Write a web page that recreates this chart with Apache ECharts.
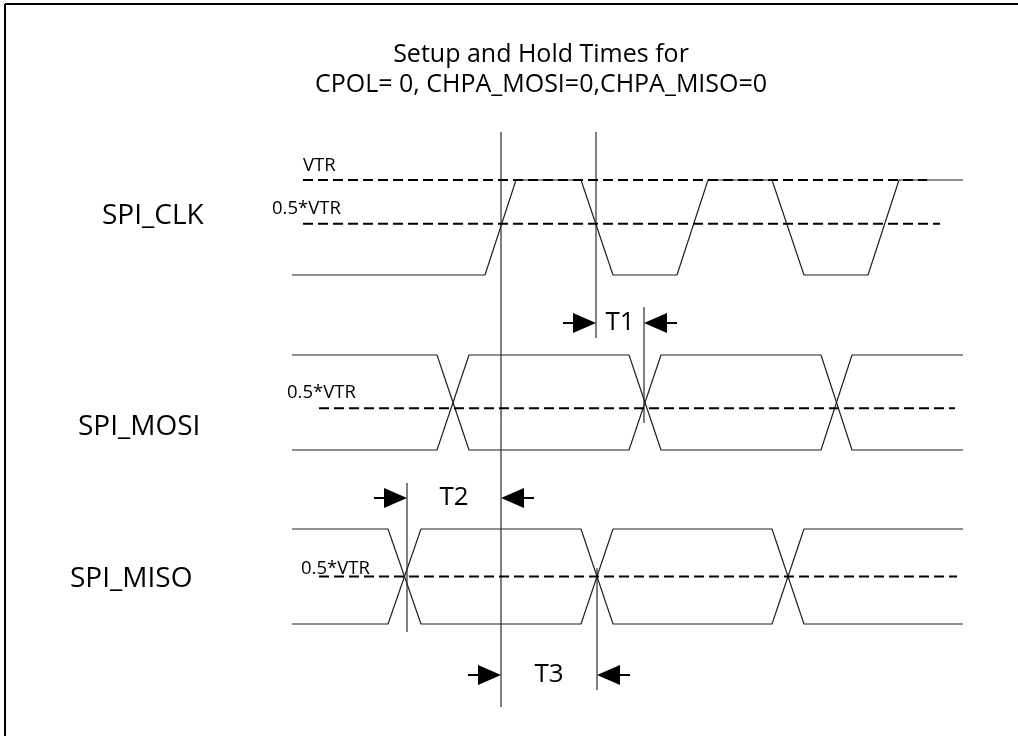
<!DOCTYPE html>
<html><head><meta charset="utf-8">
<script src="https://cdn.jsdelivr.net/npm/echarts@6/dist/echarts.min.js"></script>
<style>html,body{margin:0;padding:0;background:#fff;overflow:hidden}#c{width:1018px;height:736px}</style>
</head><body><div id="c"></div>
<script>
// ---- data (time in ns-like units shared by all traces; levels 0 = low, 1 = high) ----
const clkTimes   = [292,485,516,581,613,677,708,772,804,868,899,963];
const clkLevels  = [0,0,1,1,0,0,1,1,0,0,1,1];
const mosiTimes  = [292,437,469,629,661,821,852,963];
const mosiLevelsA = [1,1,0,0,1,1,0,0];
const mosiLevelsB = [0,0,1,1,0,0,1,1];
const misoTimes  = [292,388,421,581,613,772,804,963];
const misoLevelsA = [1,1,0,0,1,1,0,0];
const misoLevelsB = [0,0,1,1,0,0,1,1];
// threshold (dashed) lines
const thrTrace  = [0,0,1,2];
const thrLevel  = [1,0.54,0.44,0.5];
const thrStart  = [303,303,319,319];
const thrEnd    = [927,940,955,957];
const thrLabels = ['VTR','0.5*VTR','0.5*VTR','0.5*VTR'];
// reference cursors (vertical lines)
const cursorTime   = [501,596,644,407,597];
const cursorTop    = [132,132,307,483,568];
const cursorBottom = [707,338,423,632,690];
// timing intervals
const intervalNames = ['T1','T2','T3'];
const intervalStart = [596,407,501];
const intervalEnd   = [644,501,597];
const intervalRow   = [323,498,675];
const signalNames = ['SPI_CLK','SPI_MOSI','SPI_MISO'];
const titleLines  = ['Setup and Hold Times for','CPOL= 0, CHPA_MOSI=0,CHPA_MISO=0'];

// ---- layout / style ----
const FONT = '"Open Sans", sans-serif';
const W = 1018, H = 736;
const traceTop = [180,355,529], traceH = 95;
const zip = (t, v) => t.map((x, i) => [x, v[i]]);
const waveStyle = {color:'#222', width:1.2};
const dashStyle = {color:'#000', width:2, type:[10,5]};

const grids = traceTop.map(t => ({left:0, right:0, top:t, height:traceH}));
grids.push({left:0, top:0, width:W, height:H});
const xAxes = grids.map((g, i) => ({type:'value', gridIndex:i, min:0, max:W, show:false}));
const yAxes = grids.map((g, i) => i < 3
  ? {type:'value', gridIndex:i, min:0, max:1, show:false}
  : {type:'value', gridIndex:i, min:0, max:H, inverse:true, show:false});

const series = [];
const wave = (gi, data) => series.push({type:'line', xAxisIndex:gi, yAxisIndex:gi, data, symbol:'none',
  lineStyle:waveStyle, clip:false, silent:true});
wave(0, zip(clkTimes, clkLevels));
wave(1, zip(mosiTimes, mosiLevelsA));
wave(1, zip(mosiTimes, mosiLevelsB));
wave(2, zip(misoTimes, misoLevelsA));
wave(2, zip(misoTimes, misoLevelsB));
thrLevel.forEach((lv, i) => series.push({type:'line', xAxisIndex:thrTrace[i], yAxisIndex:thrTrace[i],
  data:[[thrStart[i], lv],[thrEnd[i], lv]], symbol:'none', lineStyle:dashStyle, clip:false, silent:true}));

// cursors
series.push({type:'custom', xAxisIndex:3, yAxisIndex:3, clip:false, silent:true,
  data: cursorTime.map((t, i) => [t, cursorTop[i], cursorBottom[i]]),
  renderItem(params, api) {
    const a = api.coord([api.value(0), api.value(1)]);
    const b = api.coord([api.value(0), api.value(2)]);
    return {type:'line', shape:{x1:a[0], y1:a[1], x2:b[0], y2:b[1]}, style:{stroke:'#000', lineWidth:1}};
  }});

// interval arrows + labels
series.push({type:'custom', xAxisIndex:3, yAxisIndex:3, clip:false, silent:true,
  data: intervalStart.map((s, i) => [s, intervalEnd[i], intervalRow[i]]),
  renderItem(params, api) {
    const s = api.coord([api.value(0), api.value(2)]);
    const e = api.coord([api.value(1), api.value(2)]);
    const L = 33, AL = 23, AH = 10;
    return {type:'group', children:[
      {type:'line', shape:{x1:s[0]-L, y1:s[1], x2:s[0]-AL+1, y2:s[1]}, style:{stroke:'#000', lineWidth:2}},
      {type:'polygon', shape:{points:[[s[0], s[1]],[s[0]-AL, s[1]-AH],[s[0]-AL, s[1]+AH]]}, style:{fill:'#000'}},
      {type:'line', shape:{x1:e[0]+L, y1:e[1], x2:e[0]+AL-1, y2:e[1]}, style:{stroke:'#000', lineWidth:2}},
      {type:'polygon', shape:{points:[[e[0], e[1]],[e[0]+AL, e[1]-AH],[e[0]+AL, e[1]+AH]]}, style:{fill:'#000'}},
      {type:'text', x:(s[0]+e[0])/2, y:s[1], style:{text:intervalNames[params.dataIndex], font:'26px ' + FONT,
        fill:'#000', textAlign:'center', textVerticalAlign:'middle'}}
    ]};
  }});

// text layout
const thrLabelPos = [[303,166],[272,209],[287,393],[301,569]];
const signalLabelPos = [[102,216],[78,427],[70,579]];
const graphic = [
  {type:'line', shape:{x1:5, y1:4, x2:W+10, y2:4}, style:{stroke:'#000', lineWidth:2}, silent:true},
  {type:'line', shape:{x1:5, y1:4, x2:5, y2:H+10}, style:{stroke:'#000', lineWidth:2}, silent:true},
  {type:'text', x:541, y:55, style:{text:titleLines[0], font:'25px ' + FONT, fill:'#000', textAlign:'center', textVerticalAlign:'middle'}},
  {type:'text', x:541, y:85, style:{text:titleLines[1], font:'25px ' + FONT, fill:'#000', textAlign:'center', textVerticalAlign:'middle'}}
];
signalNames.forEach((n, i) => graphic.push({type:'text', x:signalLabelPos[i][0], y:signalLabelPos[i][1],
  style:{text:n, font:'28px ' + FONT, fill:'#000', textAlign:'left', textVerticalAlign:'middle'}}));
thrLabels.forEach((n, i) => graphic.push({type:'text', x:thrLabelPos[i][0], y:thrLabelPos[i][1],
  style:{text:n, font:'18.5px ' + FONT, fill:'#000', textAlign:'left', textVerticalAlign:'middle'}}));

const chart = echarts.init(document.getElementById('c'));
chart.setOption({animation:false, backgroundColor:'#fff', grid:grids, xAxis:xAxes, yAxis:yAxes, series, graphic});
</script></body></html>
